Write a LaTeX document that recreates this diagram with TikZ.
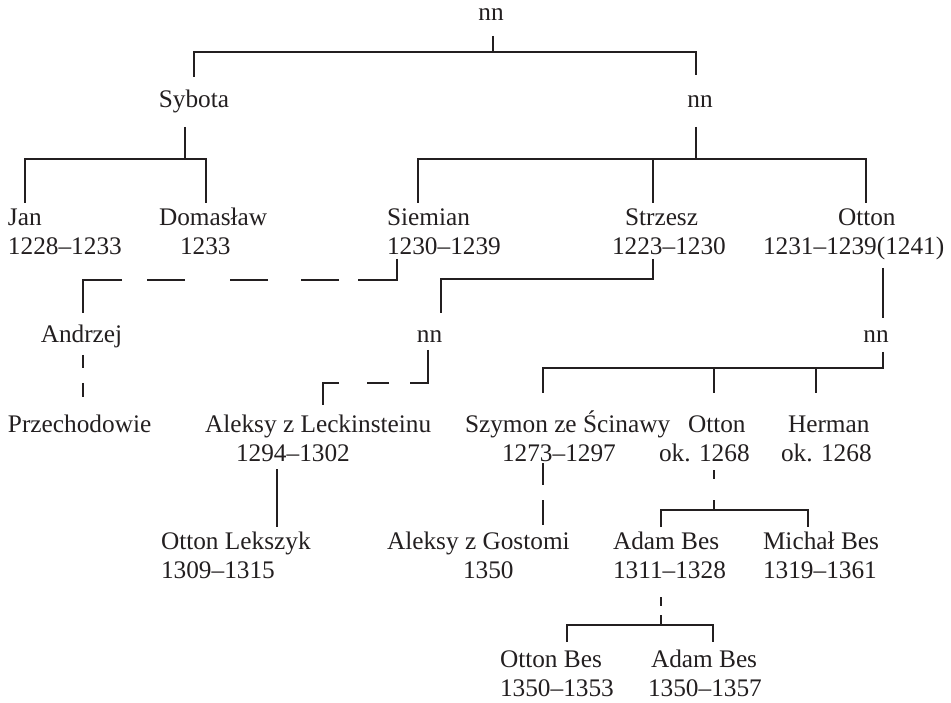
\documentclass[tikz,border=0pt]{standalone}
\usepackage{fontspec}
\setmainfont{Liberation Serif}
\definecolor{ink}{HTML}{231F20}
\newcommand\twol[2]{\begin{tabular}[t]{@{}l@{}}#1\\#2\end{tabular}}
\tikzset{
  person/.style={inner sep=0pt, outer sep=0pt, text=ink, font={\fontsize{25.3pt}{29pt}\selectfont}, anchor=base west},
  single/.style={person, anchor=base},
  link/.style={draw=ink, line width=1.2pt},
}
\begin{document}
\begin{tikzpicture}[x=1pt, y=-1pt]
\useasboundingbox (0,0) rectangle (951,703);
% nodes
\node[single] (top) at (491,21) {nn};
\node[single] (sybota) at (194,108) {Sybota};
\node[single] (nn2) at (700,108) {nn};
\node[person] (jan) at (8,226) {\twol{Jan}{1228–1233}};
\node[person] (domaslaw) at (159,226) {\twol{Domasław}{\hspace*{21pt}1233}};
\node[person] (siemian) at (387,226) {\twol{Siemian}{1230–1239}};
\node[person] (strzesz) at (612,226) {\twol{\hspace*{13pt}Strzesz}{1223–1230}};
\node[person] (otton1) at (763,226) {\twol{\hspace*{75pt}Otton}{1231–1239(1241)}};
\node[single] (andrzej) at (81.5,343) {Andrzej};
\node[single] (nnA) at (429.5,343) {nn};
\node[single] (nnB) at (876,343) {nn};
\node[person] (przech) at (8,432) {Przechodowie};
\node[person] (aleksyL) at (205,432) {\twol{Aleksy z Leckinsteinu}{\hspace*{31pt}1294–1302}};
\node[person] (szymon) at (465,432) {\twol{Szymon ze Ścinawy}{\hspace*{37pt}1273–1297}};
\node[person] (otton2) at (659,432) {\twol{\hspace*{29pt}Otton}{ok. 1268}};
\node[person] (herman) at (781,432) {\twol{\hspace*{7pt}Herman}{ok. 1268}};
\node[person] (lekszyk) at (161,549) {\twol{Otton Lekszyk}{1309–1315}};
\node[person] (gostomi) at (387,549) {\twol{Aleksy z Gostomi}{\hspace*{76pt}1350}};
\node[person] (adam1) at (613,549) {\twol{Adam Bes}{1311–1328}};
\node[person] (michal) at (763,549) {\twol{Michał Bes}{1319–1361}};
\node[person] (ottonbes) at (500,667) {\twol{Otton Bes}{1350–1353}};
\node[person] (adam2) at (648,667) {\twol{\hspace*{3pt}Adam Bes}{1350–1357}};
% connectors
\draw[link] ([shift={(2,15)}]top.base) -- ++(0,16);
\draw[link] ([shift={(0,-31)}]sybota.base) -- ++(0,-25) -| ([shift={(-4,-33)}]nn2.base);
\draw[link] ([shift={(-9,19)}]sybota.base) -- ++(0,32);
\draw[link] ([shift={(17,-23)}]jan.base west) -- ++(0,-44) -| ([shift={(47,-23)}]domaslaw.base west);
\draw[link] ([shift={(-4,19)}]nn2.base) -- ++(0,32);
\draw[link] ([shift={(31,-23)}]siemian.base west) -- ++(0,-44) -| ([shift={(103,-23)}]otton1.base west);
\draw[link] ([shift={(41,-23)}]strzesz.base west) -- ++(0,-44);
\draw[link, dash pattern=on 60pt off 19pt on 38pt off 33pt on 38pt off 45pt on 38pt off 25pt on 72pt off 20pt]
  ([shift={(10,33)}]siemian.base west) -- ++(0,21) -| ([shift={(1.5,-30)}]andrzej.base);
\draw[link] ([shift={(41,33)}]strzesz.base west) -- ++(0,20) -| ([shift={(11.5,-30)}]nnA.base);
\draw[link] ([shift={(120,42)}]otton1.base west) -- ([shift={(7,-25)}]nnB.base);
\draw[link, dash pattern=on 13pt off 15pt on 14pt off 20pt]
  ([shift={(1.5,12)}]andrzej.base) -- ([shift={(75,-35)}]przech.base west);
\draw[link, dash pattern=on 51pt off 21pt on 22pt off 28pt on 39pt off 20pt]
  ([shift={(-1.5,7)}]nnA.base) -- ++(0,33) -| ([shift={(118,-27)}]aleksyL.base west);
\draw[link] ([shift={(7,9)}]nnB.base) -- ++(0,16) -| ([shift={(78,-39)}]szymon.base west);
\draw[link] ([shift={(55,-39)}]otton2.base west) -- ++(0,-25);
\draw[link] ([shift={(35,-39)}]herman.base west) -- ++(0,-25);
\draw[link] ([shift={(72,37)}]aleksyL.base west) -- ([shift={(116,-22)}]lekszyk.base west);
\draw[link, dash pattern=on 22pt off 15pt on 25pt off 20pt]
  ([shift={(78,31)}]szymon.base west) -- ([shift={(156,-24)}]gostomi.base west);
\draw[link, dash pattern=on 9pt off 21pt on 10pt off 20pt]
  ([shift={(55,38)}]otton2.base west) -- ++(0,40);
\draw[link] ([shift={(48,-22)}]adam1.base west) |- ([shift={(45,-39)}]michal.base west) -- ([shift={(45,-22)}]michal.base west);
\draw[link, dash pattern=on 9pt off 9pt on 10pt off 20pt]
  ([shift={(48,48)}]adam1.base west) -- ++(0,28);
\draw[link] ([shift={(67,-25)}]ottonbes.base west) |- ([shift={(65,-42)}]adam2.base west) -- ([shift={(65,-25)}]adam2.base west);
\end{tikzpicture}
\end{document}
